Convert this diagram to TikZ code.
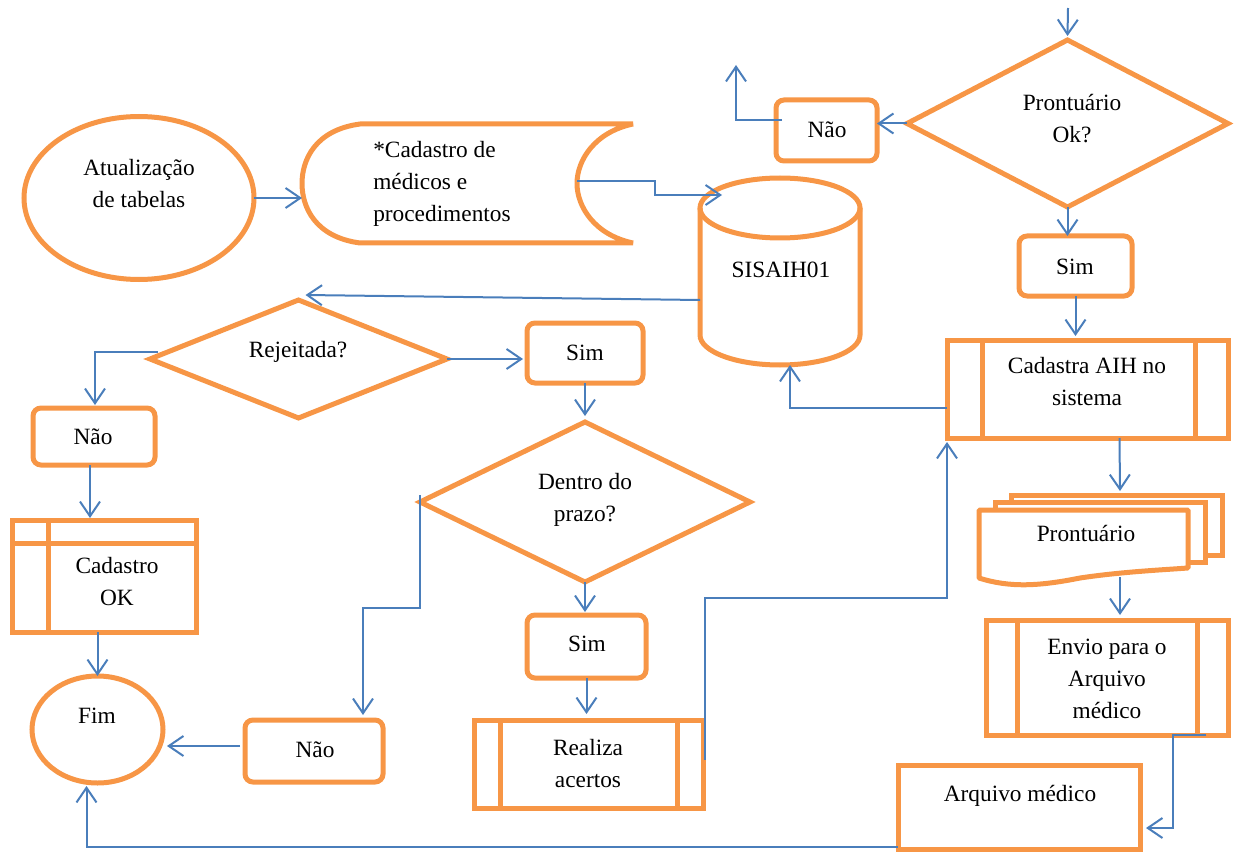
\documentclass[tikz,border=0pt]{standalone}
\usepackage{fontspec}
\setmainfont{Liberation Serif}
\usetikzlibrary{arrows.meta,shapes.geometric,fit,calc}
\definecolor{org}{HTML}{F79646}
\definecolor{cblue}{HTML}{4A7EBB}
\begin{document}
\begin{tikzpicture}[x=0.75pt,y=-0.75pt,
  sh/.style={draw=org, line width=3.75pt, fill=white, inner sep=0pt, outer sep=0pt},
  rbox/.style={sh, rectangle, rounded corners=6pt},
  sz/.style 2 args={minimum width=#1*0.75pt, minimum height=#2*0.75pt},
  ghost/.style={inner sep=0pt, outer sep=0pt},
  lbl/.style={font=\fontsize{17.5}{24}\selectfont, align=center, inner sep=0pt},
  con/.style={draw=cblue, line width=1.5pt, -{Straight Barb[length=11pt,width=15pt]}}]
\useasboundingbox (0,0) rectangle (1234,852);

% ---------- shapes ----------
\node[sh, ellipse, sz={230}{163}] (ell1) at (139,198) {};
\node[ghost, fit={(302,124)(633,243)}] (sd) {};
\draw[sh, line join=bevel] (360,124) .. controls (315,130) and (302,160) .. (302,183.5)
  .. controls (302,207) and (315,237) .. (360,243) -- (633,243)
  .. controls (595,235) and (577,207) .. (577,183.5)
  .. controls (577,160) and (595,132) .. (633,124) -- cycle;

\node[ghost, fit={(700,178)(860,365)}] (db) {};
\draw[sh] (700,208) -- (700,335) .. controls (700,351.6) and (735.8,365) .. (780,365)
  .. controls (824.2,365) and (860,351.6) .. (860,335) -- (860,208);
\draw[sh, fill=none] (780,208) ellipse [x radius=80, y radius=30];

\node[rbox, sz={101}{61}] (nao1) at (826.5,130.5) {};
\node[sh, diamond, sz={321}{167}] (pok) at (1067.5,123.5) {};
\node[rbox, sz={113}{60}] (sim1) at (1075.5,266) {};

\node[sh, fit={(947,340)(1228,438)}] (cad) {};
\draw[sh] ($(cad.north west)+(35,0)$) -- ($(cad.south west)+(35,0)$);
\draw[sh] ($(cad.north east)+(-33,0)$) -- ($(cad.south east)+(-33,0)$);

\node[ghost, fit={(979,493)(1222,585)}] (md) {};
\draw[sh] (1011,495) rectangle (1222,555);
\draw[sh] (995,502) rectangle (1205,562);
\draw[sh, line join=bevel] (979,510) -- (1188,510) -- (1188,568)
  .. controls (1160,570) and (1120,572) .. (1080,578)
  .. controls (1040,586) and (1010,588) .. (979,578) -- cycle;

\node[sh, fit={(986,620)(1228,735)}] (env) {};
\draw[sh] ($(env.north west)+(31,0)$) -- ($(env.south west)+(31,0)$);
\draw[sh] ($(env.north east)+(-31,0)$) -- ($(env.south east)+(-31,0)$);

\node[sh, fit={(898,765)(1140,849)}] (arq) {};

\node[sh, ellipse, sz={131}{107}] (fim) at (97.5,729.5) {};
\node[rbox, sz={138}{62}] (nao3) at (314,751) {};

\node[sh, diamond, sz={330}{160}] (den) at (585,502) {};
\node[rbox, sz={119}{63}] (sim3) at (586.5,646.5) {};

\node[sh, fit={(474,720)(703,808)}] (rea) {};
\draw[sh] ($(rea.north west)+(26,0)$) -- ($(rea.south west)+(26,0)$);
\draw[sh] ($(rea.north east)+(-26,0)$) -- ($(rea.south east)+(-26,0)$);

\node[rbox, sz={116}{60}] (sim2) at (585,353) {};
\node[sh, diamond, sz={297}{118}] (rej) at (298.5,359) {};
\node[rbox, sz={122}{57}] (nao2) at (94,436.5) {};

\node[sh, fit={(12,520)(196,632)}] (cok) {};
\draw[sh] ($(cok.north west)+(0,23)$) -- ($(cok.north east)+(0,23)$);
\draw[sh] ($(cok.north west)+(36,0)$) -- ($(cok.south west)+(36,0)$);

% ---------- texts ----------
\node[lbl] (t1) at (139,184) {Atualização\\de tabelas};
\node[lbl, align=left, anchor=west] (t2) at (373,184) {*Cadastro de\\médicos e\\procedimentos};
\node[lbl] (t3) at (781,270) {SISAIH01};
\node[lbl] (t4) at (827,130) {Não};
\node[lbl] (t5) at (1072,119) {Prontuário\\Ok?};
\node[lbl] (t6) at (1075,267) {Sim};
\node[lbl] (t7) at (1087,382) {Cadastra AIH no\\sistema};
\node[lbl] (t8) at (1086,533) {Prontuário};
\node[lbl] (t9) at (1107,679) {Envio para o\\Arquivo\\médico};
\node[lbl] (t10) at (1020,796) {Arquivo médico};
\node[lbl] (t11) at (97,716) {Fim};
\node[lbl] (t12) at (315,750) {Não};
\node[lbl] (t13) at (585,500) {Dentro do\\prazo?};
\node[lbl] (t14) at (587,644) {Sim};
\node[lbl] (t15) at (588,764) {Realiza\\acertos};
\node[lbl] (t16) at (585,353) {Sim};
\node[lbl] (t17) at (298,352) {Rejeitada?};
\node[lbl] (t18) at (93,437) {Não};
\node[lbl] (t19) at (117,582) {Cadastro\\OK};

% ---------- connectors ----------
\coordinate (sdin) at (577,181);
\coordinate (up1) at (736,65);
\coordinate (topin) at (1068,8);

\draw[con] (ell1.east) -- (ell1.east -| sd.west);
\draw[con] (sdin) -- ++(78,0) |- ($(db.north west)+(22,17)$);
\draw[con] ($(db.west)+(0,28.5)$) -- ($(rej.north)+(7,-5)$);
\draw[con] (pok.west) -- (pok.west -| nao1.east);
\draw[con] ($(nao1.west)+(6,-10)$) -| (up1);
\draw[con] (topin) -- ($(pok.north)+(0,-4)$);
\draw[con] (pok.south) -- (pok.south |- sim1.north);
\draw[con] (sim1.south) -- ($(sim1.south |- cad.north)+(0,-4)$);
\draw[con] ($(cad.west)+(0,19)$) -| ($(db.south)+(10,0)$);
\draw[con] ($(cad.south)+(32,0)$) -- ($(md.north)+(19.5,-2)$);
\draw[con] ($(md.south)+(19.5,-8)$) -- ($(env.north)+(13,-5)$);
\draw[con] ($(env.south east)+(-22,0)$) -| ($(arq.east)+(33,21)$) -- ($(arq.east)+(6,21)$);
\draw[con] ($(arq.south west)+(0,-2)$) -| ($(fim.south)+(-11,3)$);
\draw[con] ($(nao3.west)+(-5,-5)$) -- ($(fim.east)+(4,16.5)$);
\draw[con] ($(den.west)+(0,-7)$) -- ($(den.west)+(0,106)$) -| ($(nao3.north)+(49,-5)$);
\draw[con] (den.south) -- ($(den.south |- sim3.north)+(0,-3)$);
\draw[con] (sim3.south) -- ($(sim3.south |- rea.north)+(0,-6)$);
\draw[con] ($(rea.east)+(2,-4)$) -- ++(0,-162) -| ($(cad.south west)+(0,4)$);
\draw[con] (rej.east) -- ($(rej.east -| sim2.west)+(-4,0)$);
\draw[con] (sim2.south) -- ($(sim2.south |- den.north)+(0,-6)$);
\draw[con] ($(rej.west)+(8,-7)$) -| ($(nao2.north)+(1,-3)$);
\draw[con] ($(nao2.south)+(-4,0)$) -- ($(nao2.south |- cok.north)+(-4,-2)$);
\draw[con] (fim.north |- cok.south) -- (fim.north);
\end{tikzpicture}
\end{document}
